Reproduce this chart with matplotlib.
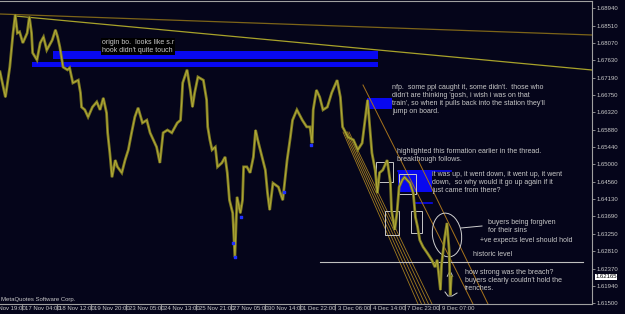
import matplotlib
matplotlib.use("Agg")
import matplotlib.pyplot as plt
from matplotlib.patches import Rectangle, Ellipse

plt.rcParams["font.family"] = ["Liberation Sans", "DejaVu Sans"]

# hourly bars (index) and traced closes
bars = [0, 5, 9, 12, 14, 16, 18, 21, 25, 27,
        29, 30, 34, 37, 40, 43, 48, 51, 53, 55,
        58, 62, 64, 67, 72, 74, 75, 78, 81, 85,
        89, 92, 95, 98, 99, 101, 103, 106, 108, 112,
        115, 118, 121, 124, 127, 131, 135, 138, 141, 144,
        147, 150, 154, 158, 163, 166, 167, 168, 172, 175,
        177, 179, 182, 187, 190, 191, 193, 195, 198, 200,
        204, 207, 209, 211, 214, 216, 218, 221, 223, 224,
        227, 230, 233, 235, 237, 241, 244, 246, 248, 251,
        256, 260, 264, 267, 269, 273, 278, 282, 285, 287,
        288, 291, 294, 297, 301, 305, 310, 313, 315, 320,
        325, 329, 333, 336, 338, 340, 342, 345, 347, 349,
        352, 356, 359, 360, 363, 365, 367, 370, 372, 377,
        380, 382, 384, 386, 389, 393, 397, 400, 402, 405,
        406, 409, 411, 413, 414, 415]
close = [1.6734, 1.6670, 1.6746, 1.6832, 1.6878, 1.6832, 1.6835, 1.6807, 1.6832, 1.6873,
         1.6832, 1.6782, 1.6764, 1.6807, 1.6822, 1.6789, 1.6814, 1.6840, 1.6822, 1.6797,
         1.6746, 1.6739, 1.6744, 1.6706, 1.6713, 1.6681, 1.6645, 1.6638, 1.6620, 1.6645,
         1.6658, 1.6638, 1.6668, 1.6630, 1.6580, 1.6529, 1.6468, 1.6511, 1.6494, 1.6479,
         1.6511, 1.6537, 1.6580, 1.6620, 1.6643, 1.6605, 1.6612, 1.6580, 1.6562, 1.6544,
         1.6504, 1.6580, 1.6587, 1.6580, 1.6605, 1.6612, 1.6655, 1.6706, 1.6739, 1.6688,
         1.6645, 1.6681, 1.6721, 1.6713, 1.6663, 1.6595, 1.6562, 1.6537, 1.6544, 1.6494,
         1.6504, 1.6519, 1.6479, 1.6410, 1.6377, 1.6266, 1.6418, 1.6377, 1.6410, 1.6494,
         1.6494, 1.6479, 1.6519, 1.6587, 1.6562, 1.6519, 1.6486, 1.6428, 1.6385, 1.6453,
         1.6443, 1.6410, 1.6511, 1.6569, 1.6612, 1.6638, 1.6612, 1.6595, 1.6595, 1.6554,
         1.6638, 1.6688, 1.6670, 1.6638, 1.6645, 1.6681, 1.6713, 1.6670, 1.6595, 1.6569,
         1.6562, 1.6537, 1.6554, 1.6620, 1.6663, 1.6595, 1.6529, 1.6486, 1.6428, 1.6479,
         1.6486, 1.6511, 1.6453, 1.6385, 1.6335, 1.6377, 1.6443, 1.6461, 1.6468, 1.6453,
         1.6428, 1.6367, 1.6342, 1.6309, 1.6292, 1.6276, 1.6259, 1.6241, 1.6259, 1.6183,
         1.6246, 1.6317, 1.6352, 1.6284, 1.6170, 1.6217]

# blue fractal marks
frac_bars = [214, 216, 222, 261, 286]
frac_price = [1.6302, 1.6266, 1.6367, 1.6431, 1.6549]

tick_bars = [-12, 20, 52, 84, 116, 148, 180, 212, 244, 276, 308, 340, 372, 404]
tick_labels = ["13 Nov 19:00", "17 Nov 04:00", "18 Nov 12:00", "19 Nov 20:00",
               "23 Nov 05:00", "24 Nov 13:00", "25 Nov 21:00", "27 Nov 05:00",
               "30 Nov 14:00", "1 Dec 22:00", "3 Dec 06:00", "4 Dec 14:00",
               "7 Dec 23:00", "9 Dec 07:00"]
price_ticks = [1.68940, 1.68510, 1.68070, 1.67630, 1.67190, 1.66750, 1.66320,
               1.65880, 1.65440, 1.65000, 1.64560, 1.64130, 1.63690, 1.63250,
               1.62810, 1.62370, 1.61940, 1.61500]
last_price = 1.62165

BG = "#05051a"
GRID = "#a0a0a0"
TXT = "#c8c8c8"
OLIVE = "#7d7922"
OLIVE_L = "#b2ab38"
BLUE = "#0808f0"
fs = 5.0

fig = plt.figure(figsize=(6.25, 3.14), dpi=100, facecolor=BG)
rect = [0, 10 / 314, 592 / 625, 303 / 314]

# overlay in pixel coordinates for the hand drawn objects
ov = fig.add_axes(rect, zorder=0)
ov.set_xlim(0, 592)
ov.set_ylim(304, 1)
ov.set_facecolor(BG)
ov.axis("off")

ax = fig.add_axes(rect, zorder=1)
ax.patch.set_alpha(0)
ax.set_xlim(0, 592 / 1.0875)
ax.set_ylim(1.61476, 1.69129)

# trend lines at the top
ov.plot([0, 592], [14, 35], color="#7d6418", lw=0.9)
ov.plot([15, 592], [16, 70], color="#a8a22a", lw=0.9)

# blue zones
for x0, y0, w, h in [(53, 51, 325, 8), (32, 62, 346, 5), (367, 98, 25, 11),
                     (398, 170, 34, 22)]:
    ov.add_patch(Rectangle((x0, y0), w, h, color=BLUE, lw=0))
ov.plot([398, 451], [170.5, 170.5], color=BLUE, lw=1.2)
ov.plot([414, 432], [203, 203], color=BLUE, lw=1.2)

# channel lines
for i in range(5):
    ov.plot([343 + 1.5 * i, 418 + 3.5 * i], [132, 304], color="#a27c20", lw=0.6)
ov.plot([363, 473], [85, 304], color="#a8741c", lw=0.7)
ov.plot([418, 488], [160, 304], color="#a8741c", lw=0.7)

# historic level
ov.plot([320, 583], [262, 262], color="#c0c0c0", lw=0.8)

# highlight boxes
for x0, y0, w, h in [(376, 162, 17, 20), (399, 174, 17, 20),
                     (385, 211, 14, 24), (411, 211, 11, 22)]:
    ov.add_patch(Rectangle((x0, y0), w, h, fill=False, ec="#c8c8c8", lw=0.7, zorder=5))

# hand drawn circle + arrow
ov.add_patch(Ellipse((447, 235), 29, 44, angle=-8, fill=False, ec="#d0d0d0", lw=0.7, zorder=5))
ov.plot([461, 482], [228, 226], color="#d0d0d0", lw=0.7, zorder=5)
ov.annotate("", xy=(450, 267), xytext=(450, 295),
            arrowprops=dict(arrowstyle="->", color="#d0d0d0", lw=0.7), zorder=5)
ov.plot([445, 448, 452, 457], [292, 296, 296, 293], color="#d0d0d0", lw=0.7, zorder=5)

# annotations
def note(x, y, s, **kw):
    ov.text(x, y, s, color=TXT, fontsize=fs, va="top", ha="left",
            linespacing=1.2, zorder=6, **kw)

note(102, 39, "origin bo.  looks like s.r\nhook didn't quite touch",
     bbox=dict(facecolor="black", edgecolor="none", pad=0.5))
note(392, 84, "nfp.  some ppl caught it, some didn't.  those who\n"
              "didn't are thinking 'gosh, i wish i was on that\n"
              "train', so when it pulls back into the station they'll\n"
              "jump on board.")
note(397, 148, "highlighted this formation earlier in the thread.\nbreakthough follows.")
note(432, 171, "it was up, it went down, it went up, it went\n"
               "down,  so why would it go up again if it\n"
               "just came from there?")
note(488, 219, "buyers being forgiven\nfor their sins")
note(480, 237, "+ve expects level should hold")
note(473, 251, "historic level")
note(465, 269, "how strong was the breach?\nbuyers clearly couldn't hold the\ntrenches.")

# price
ax.plot(bars, close, color=OLIVE, lw=2.0, solid_joinstyle="miter")
ax.plot(bars, close, color=OLIVE_L, lw=0.7)
ax.scatter(frac_bars, frac_price, s=4, marker="s", color="#2030ff", zorder=3)

# axes styling
ax.spines["left"].set_visible(False)
for side in ["right", "bottom", "top"]:
    ax.spines[side].set_color(GRID)
    ax.spines[side].set_linewidth(0.8)
ax.yaxis.tick_right()
ax.set_yticks(price_ticks)
ax.set_yticklabels([f"{p:.5f}" for p in price_ticks])
ax.tick_params(axis="y", colors=GRID, labelcolor=TXT, labelsize=4.3, length=2, pad=1.5, width=0.6)
ax.set_xticks([b for b in tick_bars if b >= 0])
ax.set_xticklabels([])
ax.tick_params(axis="x", colors=GRID, length=4, width=0.6)
for b, lab in zip(tick_bars, tick_labels):
    ax.annotate(lab, (b, 0), xycoords=("data", "axes fraction"), xytext=(2, -1.5),
                textcoords="offset points", ha="left", va="top", fontsize=4.3,
                color=TXT, annotation_clip=False)

ax.annotate(f"{last_price:.5f}", (1, last_price), xycoords=("axes fraction", "data"),
            xytext=(2.5, 0), textcoords="offset points", ha="left", va="center",
            fontsize=4.3, color="black", annotation_clip=False,
            bbox=dict(facecolor="white", edgecolor="none", pad=0.3))

ov.text(1, 299, "MetaQuotes Software Corp.", color=TXT, fontsize=4.3,
        ha="left", va="center", clip_on=False)

fig.savefig("out.png", dpi=100, facecolor=BG)
